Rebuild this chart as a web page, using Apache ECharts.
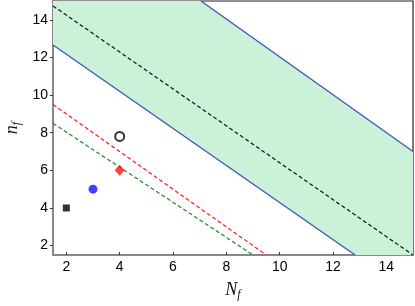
<!DOCTYPE html>
<html><head><meta charset="utf-8">
<script src="https://cdn.jsdelivr.net/npm/echarts@6/dist/echarts.min.js"></script>
<style>html,body{margin:0;padding:0;background:#fff}#c{width:415px;height:306px}</style>
</head><body><div id="c"></div>
<script>
var xTicks = [2, 4, 6, 8, 10, 12, 14];
var yTicks = [2, 4, 6, 8, 10, 12, 14];
// shaded band (polygon vertices, N_f, n_f)
var band = [[1.5, 12.66], [12.83, 1.5], [15, 1.5], [15, 7.0], [7.05, 15], [1.5, 15]];
var blueLower = [[1.5, 12.66], [12.83, 1.5]];
var blueUpper = [[7.05, 15], [15, 7.0]];
var blackDashed = [[1.5, 14.74], [15, 1.5]];
var redDashed = [[1.5, 9.5], [9.5, 1.5]];
var greenDashed = [[1.5, 8.5], [9.0, 1.5]];
var squarePt = [[2, 4]];
var bluePt = [[3, 5]];
var redPt = [[4, 6]];
var openPt = [[4, 7.8]];

var chart = echarts.init(document.getElementById('c'), null, {renderer: 'canvas'});
var lineSeries = function (data, color, type, width) {
  return {type: 'line', data: data, symbol: 'none', silent: true, clip: true,
    lineStyle: {color: color, width: width, type: type}, z: 3};
};
chart.setOption({
  animation: false,
  grid: {left: 53, right: 2, top: 1, bottom: 51, show: true, borderColor: '#222', borderWidth: 1.2, backgroundColor: 'transparent', containLabel: false, outerBoundsMode: 'none'},
  xAxis: {
    type: 'value', min: 1.5, max: 15,
    name: '{a|N}{b|f}', nameLocation: 'middle', nameGap: 24,
    nameTextStyle: {rich: {
      a: {fontFamily: 'Liberation Serif', fontStyle: 'italic', fontSize: 18, color: '#111'},
      b: {fontFamily: 'Liberation Serif', fontStyle: 'italic', fontSize: 12, color: '#111', padding: [10, 0, 0, 0]}
    }},
    axisLine: {show: true, onZero: false, lineStyle: {color: '#888', width: 2}},
    axisTick: {show: true, inside: true, length: 3, customValues: xTicks, lineStyle: {color: '#333'}},
    axisLabel: {customValues: xTicks, margin: 5, fontFamily: 'Liberation Sans', fontSize: 14, color: '#000'},
    splitLine: {show: false}
  },
  yAxis: {
    type: 'value', min: 1.5, max: 15,
    name: '{a|n}{b|f}', nameLocation: 'middle', nameGap: 30, nameRotate: 90, nameMoveOverlap: false,
    nameTextStyle: {rich: {
      a: {fontFamily: 'Liberation Serif', fontStyle: 'italic', fontSize: 18, color: '#111'},
      b: {fontFamily: 'Liberation Serif', fontStyle: 'italic', fontSize: 12, color: '#111', padding: [10, 0, 0, 0]}
    }},
    axisLine: {show: true, onZero: false, lineStyle: {color: '#888', width: 2}},
    axisTick: {show: true, inside: false, length: 3, customValues: yTicks, lineStyle: {color: '#333'}},
    axisLabel: {customValues: yTicks, margin: 5, fontFamily: 'Liberation Sans', fontSize: 14, color: '#000'},
    splitLine: {show: false}
  },
  series: [
    {type: 'custom', silent: true, clip: true, z: 1, data: [0],
      renderItem: function (params, api) {
        var pts = band.map(function (p) { return api.coord(p); });
        return {type: 'polygon', shape: {points: pts}, style: {fill: '#cbf2d9', stroke: null}};
      }},
    lineSeries(blueLower, '#3a55b8', 'solid', 1.3),
    lineSeries(blueUpper, '#3a55b8', 'solid', 1.3),
    lineSeries(blackDashed, '#111', [4, 2.5], 1.2),
    lineSeries(redDashed, '#ff1a1a', [4, 2.5], 1.2),
    lineSeries(greenDashed, '#1a8a1a', [4, 2.5], 1.2),
    {type: 'scatter', data: squarePt, symbol: 'rect', symbolSize: 7, itemStyle: {color: '#000'}, z: 5, silent: true},
    {type: 'scatter', data: bluePt, symbol: 'circle', symbolSize: 9, itemStyle: {color: '#0a14ff'}, z: 5, silent: true},
    {type: 'scatter', data: redPt, symbol: 'diamond', symbolSize: [10, 11], itemStyle: {color: '#ff1010'}, z: 5, silent: true},
    {type: 'scatter', data: openPt, symbol: 'circle', symbolSize: 9, itemStyle: {color: '#fff', borderColor: '#000', borderWidth: 2}, z: 5, silent: true}
  ]
});
</script></body></html>
